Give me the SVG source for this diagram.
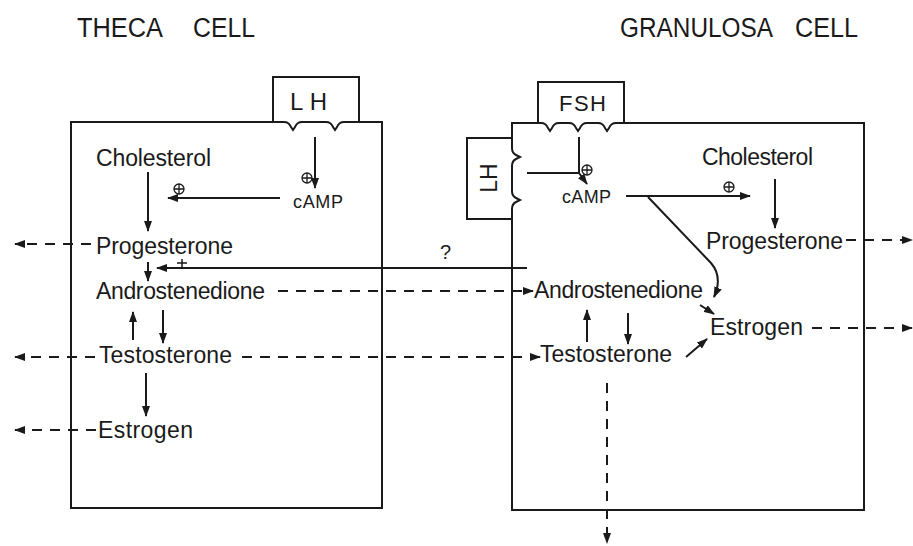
<svg xmlns="http://www.w3.org/2000/svg" width="913" height="546" viewBox="0 0 913 546">
<style>
.t{font-family:"Liberation Sans",Arial,sans-serif;fill:#1a1a1a}
.m{font-size:23px}
.s{font-size:18px}
.h{font-size:27px}
.ln{stroke:#1a1a1a;stroke-width:2;fill:none}
.d{stroke-dasharray:10 8}
</style>
<defs>
<marker id="ah" markerUnits="userSpaceOnUse" markerWidth="11" markerHeight="8" refX="10" refY="4" orient="auto">
<path d="M0,0 L11,4 L0,8 z" fill="#1a1a1a"/>
</marker>
<g id="plus"><circle r="5" fill="none" stroke="#1a1a1a" stroke-width="1.3"/><path d="M-5,0H5M0,-5V5" stroke="#1a1a1a" stroke-width="1.3"/></g>
</defs>
<rect width="913" height="546" fill="#fff"/>

<g id="titles">
<text class="t h" x="77" y="37" textLength="86" lengthAdjust="spacingAndGlyphs">THECA</text>
<text class="t h" x="193" y="37" textLength="62" lengthAdjust="spacingAndGlyphs">CELL</text>
<text class="t h" x="620" y="37" textLength="153" lengthAdjust="spacingAndGlyphs">GRANULOSA</text>
<text class="t h" x="795" y="37" textLength="63" lengthAdjust="spacingAndGlyphs">CELL</text>
</g>

<g id="theca-cell">
<path class="ln" d="M71,122 H284 q5,0 7,5 l2,3 l2,-3 q2,-5 7,-5 H326 q5,0 7,5 l2,3 l2,-3 q2,-5 7,-5 H382 V508 H71 Z"/>
</g>
<g id="theca-lh">
<path class="ln" d="M273,122 V77 H359 V122"/>
<text class="t" x="290" y="110" font-size="24" textLength="37">L H</text>
</g>

<g id="granulosa-cell">
<path class="ln" d="M512,510 V209 q0,-5 4,-7 l4,-2 l-4,-2 q-4,-2 -4,-7 V166 q0,-5 4,-7 l4,-2 l-4,-2 q-4,-2 -4,-7 V123 H541 q5,0 7,5 l2,3 l2,-3 q2,-5 7,-5 H569 q5,0 7,5 l2,3 l2,-3 q2,-5 7,-5 H598 q5,0 7,5 l2,3 l2,-3 q2,-5 7,-5 H864 V510 Z"/>
</g>
<g id="granulosa-fsh">
<path class="ln" d="M538,123 V82 H624 V123"/>
<text class="t" x="559" y="111" font-size="22" textLength="47">FSH</text>
</g>
<g id="granulosa-lh">
<path class="ln" d="M512,138 H467 V219 H512"/>
<text class="t" font-size="23" transform="translate(497,178) rotate(-90)" text-anchor="middle">LH</text>
</g>

<g id="theca-labels">
<text class="t m" x="96" y="166" textLength="115">Cholesterol</text>
<text class="t s" x="293" y="208" textLength="50">cAMP</text>
<text class="t m" x="96" y="254" textLength="137">Progesterone</text>
<text class="t m" x="96" y="299" textLength="169">Androstenedione</text>
<text class="t m" x="99" y="363" textLength="133">Testosterone</text>
<text class="t m" x="98" y="438" textLength="95">Estrogen</text>
</g>

<g id="granulosa-labels">
<text class="t s" x="562" y="203" textLength="49">cAMP</text>
<text class="t m" x="702" y="165" textLength="111">Cholesterol</text>
<text class="t m" x="706" y="249" textLength="137">Progesterone</text>
<text class="t m" x="534" y="298" textLength="169">Androstenedione</text>
<text class="t m" x="710" y="335" textLength="93">Estrogen</text>
<text class="t m" x="540" y="362" textLength="132">Testosterone</text>
</g>

<g id="connectors">
<!-- theca -->
<line class="ln" x1="315" y1="137" x2="315" y2="188" marker-end="url(#ah)"/>
<line class="ln" x1="280" y1="198" x2="168" y2="198" marker-end="url(#ah)"/>
<line class="ln" x1="148" y1="172" x2="148" y2="231" marker-end="url(#ah)"/>
<line class="ln d" x1="91" y1="244" x2="15" y2="244" marker-end="url(#ah)"/>
<line class="ln" x1="527" y1="268" x2="157" y2="268" marker-end="url(#ah)"/>
<line class="ln" x1="148" y1="262" x2="148" y2="281" marker-end="url(#ah)"/>
<line class="ln d" x1="278" y1="291" x2="533" y2="291" marker-end="url(#ah)"/>
<line class="ln" x1="133" y1="340" x2="133" y2="312" marker-end="url(#ah)"/>
<line class="ln" x1="163" y1="310" x2="163" y2="343" marker-end="url(#ah)"/>
<line class="ln d" x1="95" y1="357" x2="15" y2="357" marker-end="url(#ah)"/>
<line class="ln d" x1="242" y1="357" x2="540" y2="357" marker-end="url(#ah)"/>
<line class="ln" x1="146" y1="373" x2="146" y2="416" marker-end="url(#ah)"/>
<line class="ln d" x1="96" y1="430" x2="15" y2="430" marker-end="url(#ah)"/>
<!-- granulosa -->
<path class="ln" d="M579,137 V173 L587,184" marker-end="url(#ah)"/>
<line class="ln" x1="527" y1="173" x2="579" y2="173"/>
<line class="ln" x1="626" y1="196" x2="750" y2="196" marker-end="url(#ah)"/>
<line class="ln" x1="775" y1="179" x2="775" y2="228" marker-end="url(#ah)"/>
<line class="ln d" x1="846" y1="240" x2="912" y2="240" marker-end="url(#ah)"/>
<path class="ln" d="M648,197 L711,263 Q723,277 714,297" marker-end="url(#ah)"/>
<line class="ln" x1="700" y1="305" x2="714" y2="314" marker-end="url(#ah)"/>
<line class="ln" x1="686" y1="357" x2="707" y2="339" marker-end="url(#ah)"/>
<line class="ln" x1="587" y1="342" x2="587" y2="310" marker-end="url(#ah)"/>
<line class="ln" x1="628" y1="313" x2="628" y2="344" marker-end="url(#ah)"/>
<line class="ln d" x1="812" y1="328" x2="912" y2="328" marker-end="url(#ah)"/>
<line class="ln d" x1="607" y1="383" x2="607" y2="543" marker-end="url(#ah)"/>
</g>

<g id="modifiers">
<use href="#plus" x="307" y="178"/>
<use href="#plus" x="179" y="189"/>
<use href="#plus" x="587" y="170"/>
<use href="#plus" x="729" y="187"/>
<path d="M182,259 V268 M177,263 H187" stroke="#1a1a1a" stroke-width="1.5"/>
<text class="t" x="440" y="259" font-size="20">?</text>
</g>
</svg>
